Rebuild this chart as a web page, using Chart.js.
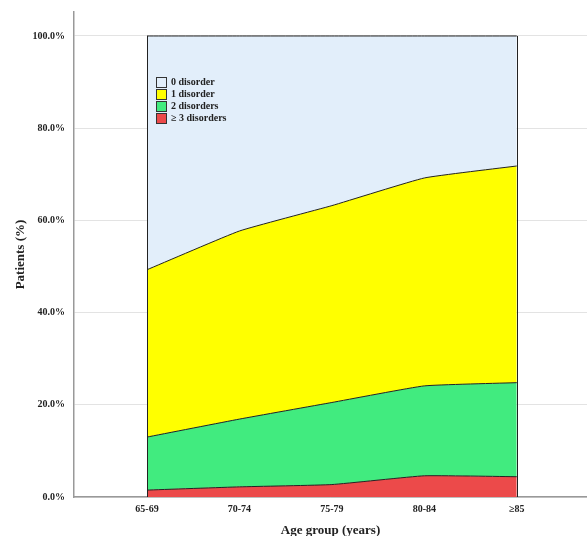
<!DOCTYPE html>
<html>
<head>
<meta charset="utf-8">
<script src="https://cdn.jsdelivr.net/npm/chart.js@4"></script>
<style>
  html, body { margin: 0; padding: 0; background: #fff; }
  #wrap { position: relative; width: 587px; height: 536px; }
  #leyenda {
    position: absolute; left: 156px; top: 76px;
    font-family: "Liberation Serif", "Times New Roman", serif;
    font-weight: bold; font-size: 10px; color: #222;
  }
  #leyenda div { height: 12px; line-height: 12px; display: flex; align-items: center; }
  #leyenda span.caja { width: 9px; height: 9px; border: 1px solid #333; margin-right: 4px; display: inline-block; }
</style>
</head>
<body>
<div id="wrap">
  <canvas id="grafica" width="587" height="536"></canvas>
  <div id="leyenda"></div>
</div>
<script>
// categorias (grupos de edad)
const grupos = ['65-69', '70-74', '75-79', '80-84', '≥85'];

// porcentaje de pacientes por numero de trastornos
const tres = [1.5, 2.2, 2.7, 4.6, 4.4];
const dos = [11.5, 14.7, 17.8, 19.5, 20.4];
const uno = [36.3, 40.8, 42.7, 45.1, 47.0];
const cero = [50.7, 42.3, 36.8, 30.8, 28.2];

const ticksY = [0, 20, 40, 60, 80, 100];

const series = [
    { label: '≥ 3 disorders', data: tres, color: '#EC4A4A' },
    { label: '2 disorders', data: dos, color: '#41EB7F' },
    { label: '1 disorder', data: uno, color: '#FFFF00' },
    { label: '0 disorder', data: cero, color: '#E2EEFA' }
];

// leyenda dentro del grafico (orden inverso)
const leyenda = document.getElementById('leyenda');
series.slice().reverse().forEach(s => {
    const fila = document.createElement('div');
    fila.innerHTML = '<span class="caja" style="background:' + s.color + '"></span>' + s.label;
    leyenda.appendChild(fila);
});

// bordes verticales del area de datos
const bordes = {
    id: 'bordes',
    afterDatasetsDraw(chart) {
        const x = chart.scales.x, y = chart.scales.y, ctx = chart.ctx;
        ctx.save();
        ctx.strokeStyle = '#222';
        ctx.lineWidth = 1;
        [0, grupos.length - 1].forEach(i => {
            const px = Math.round(x.getPixelForValue(i)) + 0.5;
            ctx.beginPath();
            ctx.moveTo(px, y.getPixelForValue(0));
            ctx.lineTo(px, y.getPixelForValue(100));
            ctx.stroke();
        });
        ctx.restore();
    }
};

const fuente = { family: '"Liberation Serif", "Times New Roman", serif', weight: 'bold' };

new Chart(document.getElementById('grafica'), {
    type: 'line',
    data: {
        datasets: series.map((s, i) => ({
            label: s.label,
            data: s.data.map((v, j) => ({ x: j, y: v })),
            backgroundColor: s.color,
            borderColor: '#222',
            borderWidth: 1,
            fill: i === 0 ? 'origin' : '-1',
            pointRadius: 0,
            tension: 0.12
        }))
    },
    options: {
        responsive: false,
        animation: false,
        layout: { padding: { top: 12, right: 0, left: 0, bottom: 0 } },
        plugins: {
            legend: { display: false },
            tooltip: { enabled: false }
        },
        scales: {
            x: {
                type: 'linear',
                min: -0.79,
                max: 4.76,
                afterBuildTicks: s => { s.ticks = grupos.map((g, i) => ({ value: i })); },
                afterFit: s => { s.height = 39; },
                ticks: {
                    callback: v => grupos[v],
                    font: { ...fuente, size: 10 },
                    color: '#222',
                    padding: 6,
                    maxRotation: 0
                },
                grid: { display: false, drawTicks: false },
                border: { color: '#999', width: 1.5 },
                title: {
                    display: true,
                    text: 'Age group (years)',
                    font: { ...fuente, size: 13 },
                    color: '#222',
                    padding: { top: 8, bottom: -2 }
                }
            },
            y: {
                stacked: true,
                min: 0,
                max: 105.2,
                afterBuildTicks: s => { s.ticks = ticksY.map(v => ({ value: v })); },
                afterFit: s => { s.width = 74; s.paddingTop = 0; s.paddingBottom = 0; },
                ticks: {
                    callback: v => v.toFixed(1) + '%',
                    font: { ...fuente, size: 10 },
                    color: '#222',
                    padding: 9
                },
                grid: { color: '#e3e3e3', lineWidth: 1, drawTicks: false },
                border: { color: '#999', width: 1.5 },
                title: {
                    display: true,
                    text: 'Patients (%)',
                    font: { ...fuente, size: 13 },
                    color: '#222',
                    padding: { top: 13, bottom: 4 }
                }
            }
        }
    },
    plugins: [bordes]
});
</script>
</body>
</html>
